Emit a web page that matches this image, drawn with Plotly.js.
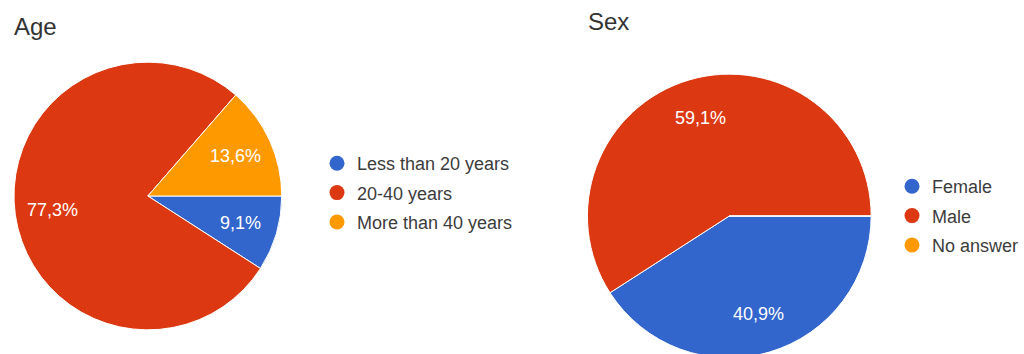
<!DOCTYPE html>
<html>
<head>
<meta charset="utf-8">
<script src="https://cdn.plot.ly/plotly-3.0.1.min.js"></script>
<style>
html,body{margin:0;padding:0;overflow:hidden;background:#fff;}
#chart{width:1024px;height:362px;}
</style>
</head>
<body>
<div id="chart"></div>
<script>
// ---- data ----
const ageTitle = "Age";
const ageLabels = ["Less than 20 years", "20-40 years", "More than 40 years"];
const ageValues = [9.1, 77.3, 13.6];

const sexTitle = "Sex";
const sexLabels = ["Female", "Male", "No answer"];
const sexValues = [40.9, 59.1, 0];

const sliceColors = ["#3366cc", "#dc3912", "#ff9900"];

// ---- layout helpers ----
const W = 1024, H = 362;
const px = v => v / W;
const py = v => (H - v) / H;

const FONT = "Liberation Sans, Arial, sans-serif";

// pie boxes in pixels: left, top, right, bottom
const ageBox = [14, 62, 282, 330];
const sexBox = [588, 74, 872, 358];

function pieTrace(labels, values, box) {
  return {
    type: "pie",
    labels: labels,
    values: values,
    sort: false,
    direction: "clockwise",
    rotation: 90,
    marker: {colors: sliceColors, line: {color: "#ffffff", width: 1}},
    textinfo: "none",
    hoverinfo: "label+percent",
    showlegend: false,
    domain: {x: [px(box[0]), px(box[2])], y: [py(box[3]), py(box[1])]}
  };
}

// percentage labels placed at ~0.72 of the radius along each slice's mid-angle
function sliceLabels(values, box) {
  const total = values.reduce((a, b) => a + b, 0);
  const cx = (box[0] + box[2]) / 2, cy = (box[1] + box[3]) / 2;
  const r = 0.72 * (box[2] - box[0]) / 2;
  let cum = 0;
  const out = [];
  values.forEach(v => {
    if (v > 0) {
      const a = (cum + v / 2) / total * 2 * Math.PI;
      const pct = (v / total * 100).toFixed(1).replace(".", ",") + "%";
      out.push({
        text: pct, xref: "paper", yref: "paper",
        x: px(cx + r * Math.cos(a)), y: py(cy + r * Math.sin(a)),
        xanchor: "center", yanchor: "middle", showarrow: false,
        font: {family: FONT, size: 18, color: "#ffffff"}
      });
    }
    cum += v;
  });
  return out;
}

const traces = [
  pieTrace(ageLabels, ageValues, ageBox),
  pieTrace(sexLabels, sexValues, sexBox)
];

// legend entries (dummy traces carrying circle symbols)
function legendEntries(labels, legendId, prefix) {
  return labels.map((lab, i) => ({
    type: "scatter",
    mode: "markers",
    x: [null], y: [null],
    name: lab,
    legend: legendId,
    legendgroup: prefix + i,
    marker: {color: sliceColors[i], size: 15, symbol: "circle"},
    hoverinfo: "skip",
    showlegend: true
  }));
}
traces.push(...legendEntries(ageLabels, "legend", "a"));
traces.push(...legendEntries(sexLabels, "legend2", "s"));

const legendCommon = {
  font: {family: FONT, size: 18, color: "#3c3c3c"},
  bgcolor: "rgba(0,0,0,0)",
  traceorder: "grouped",
  tracegroupgap: 3,
  itemclick: false,
  itemdoubleclick: false,
  xanchor: "left",
  yanchor: "top"
};

const layout = {
  width: W,
  height: H,
  margin: {l: 0, r: 0, t: 0, b: 0},
  paper_bgcolor: "#ffffff",
  plot_bgcolor: "#ffffff",
  separators: ",.",
  xaxis: {visible: false, domain: [0, 0.01]},
  yaxis: {visible: false, domain: [0, 0.01]},
  legend: Object.assign({}, legendCommon, {x: px(317), y: py(145)}),
  legend2: Object.assign({}, legendCommon, {x: px(893), y: py(168)}),
  annotations: [
    {text: ageTitle, xref: "paper", yref: "paper", x: px(12), y: py(26),
     xanchor: "left", yanchor: "middle", showarrow: false,
     font: {family: FONT, size: 24, color: "#333333"}},
    {text: sexTitle, xref: "paper", yref: "paper", x: px(587), y: py(22),
     xanchor: "left", yanchor: "middle", showarrow: false,
     font: {family: FONT, size: 24, color: "#333333"}}
  ].concat(sliceLabels(ageValues, ageBox), sliceLabels(sexValues, sexBox))
};

Plotly.newPlot("chart", traces, layout, {displayModeBar: false, staticPlot: true});
</script>
</body>
</html>
